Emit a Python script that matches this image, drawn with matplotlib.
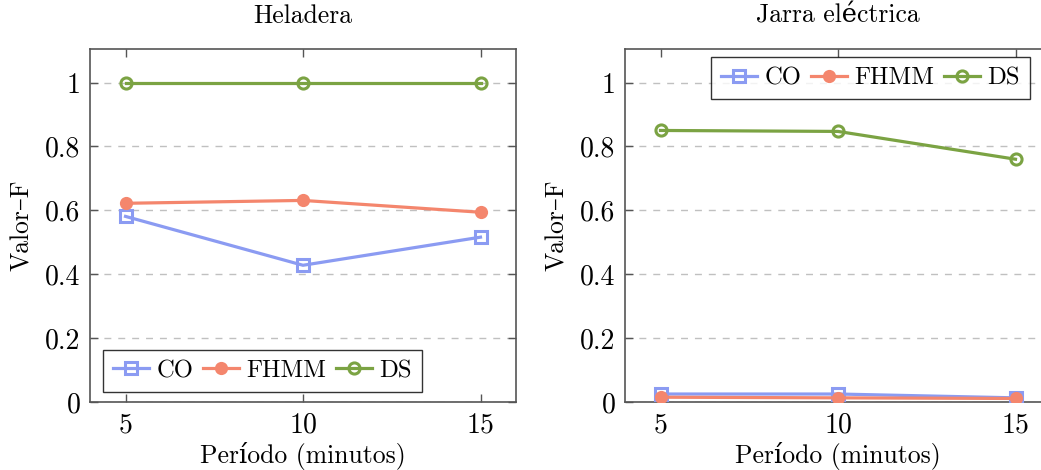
import matplotlib
matplotlib.use("Agg")
import matplotlib.pyplot as plt

plt.rcParams['font.family'] = ['cmr10', 'DejaVu Serif']
plt.rcParams['mathtext.fontset'] = 'cm'
plt.rcParams['axes.formatter.use_mathtext'] = True

periods = [5, 10, 15]
series_names = ["CO", "FHMM", "DS"]

heladera_co = [0.581, 0.428, 0.516]
heladera_fhmm = [0.622, 0.631, 0.594]
heladera_ds = [0.998, 0.998, 0.998]

jarra_co = [0.025, 0.025, 0.013]
jarra_fhmm = [0.015, 0.013, 0.011]
jarra_ds = [0.850, 0.847, 0.760]

titles = ["Heladera", "Jarra eléctrica"]
xlabel = "Período (minutos)"
ylabel = "Valor–F"
yticks = [0, 0.2, 0.4, 0.6, 0.8, 1]
ytick_labels = ["0", "0.2", "0.4", "0.6", "0.8", "1"]

colors = {"CO": "#8b9bf2", "FHMM": "#f4866d", "DS": "#7ba343"}
styles = {
    "CO": dict(marker="s", markersize=8, markerfacecolor="none", markeredgewidth=2.2),
    "FHMM": dict(marker="o", markersize=9.5, markeredgewidth=0),
    "DS": dict(marker="o", markersize=8, markerfacecolor="none", markeredgewidth=2.2),
}

W, H = 1041, 470
fig = plt.figure(figsize=(W / 100, H / 100), dpi=100)
ax_w = 426 / W
ax_h = (402 - 49) / H
bottom = (H - 402) / H
ax1 = fig.add_axes([90 / W, bottom, ax_w, ax_h])
ax2 = fig.add_axes([625 / W, bottom, ax_w, ax_h])

data = [
    {"CO": heladera_co, "FHMM": heladera_fhmm, "DS": heladera_ds},
    {"CO": jarra_co, "FHMM": jarra_fhmm, "DS": jarra_ds},
]

fs_tick = 20
fs = 18.5
fs_leg = 17.8
for ax, title, d in zip([ax1, ax2], titles, data):
    for name in series_names:
        c = colors[name]
        ax.plot(periods, d[name], color=c, linewidth=2.3, markeredgecolor=c,
                label=name, **styles[name], zorder=3)
    ax.set_xlim(4, 16)
    ax.set_ylim(0, 1.105)
    ax.set_xticks(periods)
    ax.set_xticklabels([str(p) for p in periods], fontsize=fs_tick)
    ax.set_yticks(yticks)
    ax.set_yticklabels(ytick_labels, fontsize=fs_tick)
    ax.yaxis.grid(True, linestyle=(0, (5, 5)), color="#c0c0c0", linewidth=1.0)
    ax.set_axisbelow(True)
    ax.tick_params(direction="in", top=True, right=True, length=6, width=1.0,
                   color="#555555", pad=7)
    for s in ax.spines.values():
        s.set_color("#555555")
        s.set_linewidth(1.2)
    ax.set_title(title, fontsize=fs, pad=19)
    ax.set_xlabel(xlabel, fontsize=fs, labelpad=3)
    ax.set_ylabel(ylabel, fontsize=fs, labelpad=8)

leg_kw = dict(ncol=3, fontsize=fs_leg, frameon=True, fancybox=False, edgecolor="black",
              handlelength=1.45, handletextpad=0.3, columnspacing=0.4,
              borderpad=0.4, borderaxespad=0)
l1 = ax1.legend(loc="lower left", bbox_to_anchor=(13 / 426, 10 / 353), **leg_kw)
l2 = ax2.legend(loc="upper right", bbox_to_anchor=(405 / 426, 1 - 8 / 353), **leg_kw)
for l in (l1, l2):
    l.get_frame().set_linewidth(1.0)

fig.savefig("out.png", dpi=100)
